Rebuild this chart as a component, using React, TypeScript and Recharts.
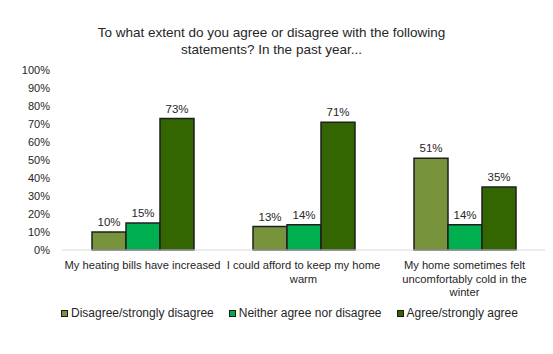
import React from 'react';
import { BarChart, Bar, XAxis, YAxis, LabelList, Legend } from 'recharts';

const categories = [
  'My heating bills have increased',
  'I could afford to keep my home warm',
  'My home sometimes felt uncomfortably cold in the winter',
];
const categoryLines = [
  ['My heating bills have increased'],
  ['I could afford to keep my home', 'warm'],
  ['My home sometimes felt', 'uncomfortably cold in the', 'winter'],
];
const disagree = [10, 13, 51];
const neither = [15, 14, 14];
const agree = [73, 71, 35];
const yTicks = [0, 10, 20, 30, 40, 50, 60, 70, 80, 90, 100];
const seriesNames = ['Disagree/strongly disagree', 'Neither agree nor disagree', 'Agree/strongly agree'];
const seriesColors = ['#77933C', '#00B050', '#336600'];
const title = ['To what extent do you agree or disagree with the following', 'statements? In the past year...'];

const data = categories.map((c, i) => ({ name: c, d: disagree[i], n: neither[i], a: agree[i] }));
const keys = ['d', 'n', 'a'];

const FONT = '"Liberation Sans", Arial, sans-serif';
const TXT = '#262626';

const XTick = (props: any) => {
  const { x, y, payload } = props;
  const idx = categories.indexOf(payload.value);
  const lines = idx >= 0 ? categoryLines[idx] : [payload.value];
  return (
    <text x={x} y={y + 11} textAnchor="middle" fontSize={11.2} fontFamily={FONT} fill={TXT}>
      {lines.map((l: string, i: number) => (
        <tspan key={i} x={x} dy={i === 0 ? 0 : 13.5}>{l}</tspan>
      ))}
    </text>
  );
};

const LegendContent = () => (
  <div style={{ display: 'flex', height: 20, alignItems: 'center', fontFamily: FONT, fontSize: 12, color: TXT, paddingLeft: 61 }}>
    {seriesNames.map((s, i) => (
      <div key={s} style={{ display: 'flex', alignItems: 'center', marginRight: i < 2 ? 15 : 0 }}>
        <span style={{ display: 'inline-block', width: 5, height: 5, background: seriesColors[i], border: '1px solid #1a1a1a', marginRight: 3 }} />
        <span>{s}</span>
      </div>
    ))}
  </div>
);

export default function App() {
  return (
    <div style={{ position: 'absolute', left: 0, top: 0, width: 553, height: 354, background: '#fff' }}>
      <div style={{ position: 'absolute', left: 0, top: 24, width: 543, textAlign: 'center', fontFamily: FONT, fontSize: 13.5, lineHeight: '17px', color: TXT, zIndex: 2 }}>
        {title.map((t) => <div key={t}>{t}</div>)}
      </div>
      <BarChart width={553} height={354} data={data} margin={{ top: 70, right: 8, left: 0, bottom: 31 }}
        barCategoryGap={30} barGap={0}>
        <XAxis dataKey="name" height={53} interval={0} tickLine={false} axisLine={{ stroke: '#D9D9D9' }} tick={<XTick />} />
        <YAxis width={62} domain={[0, 100]} ticks={yTicks} interval={0} axisLine={false} tickLine={false}
          tickFormatter={(v: number) => `${v}%`} tick={{ fontSize: 11, fontFamily: FONT, fill: TXT }} tickMargin={6} />
        <Legend verticalAlign="bottom" align="left" content={<LegendContent />} wrapperStyle={{ height: 20 }} />
        {keys.map((k, i) => (
          <Bar key={k} dataKey={k} name={seriesNames[i]} fill={seriesColors[i]} stroke="#1f1f1f" strokeWidth={1.5} isAnimationActive={false}>
            <LabelList dataKey={k} position="top" offset={6} formatter={(v: any) => `${v}%`}
              style={{ fontSize: 11.5, fontFamily: FONT, fill: TXT }} />
          </Bar>
        ))}
      </BarChart>
    </div>
  );
}
